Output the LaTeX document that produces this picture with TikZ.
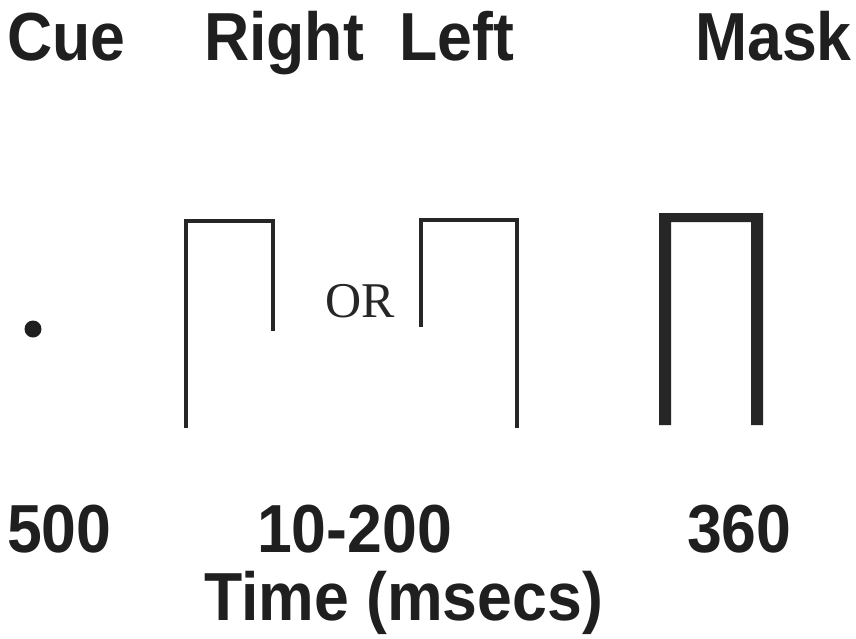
\documentclass[tikz,border=0pt]{standalone}
\usepackage{fontspec}
\setmainfont{Liberation Sans}
\newfontfamily\headface[FakeStretch=0.92]{Liberation Sans}
\newfontfamily\serifface{Liberation Serif}
\begin{document}
\begin{tikzpicture}[x=1pt,y=-1pt,
  label/.style={inner sep=0pt, anchor=base west, text=black!88,
    font=\headface\fontsize{68}{68}\selectfont\bfseries},
  thinbar/.style={draw=black!85, line width=3.3pt, line cap=butt, line join=miter},
  maskbar/.style={fill=black!85, draw=none}]
  \useasboundingbox[fill=white] (0,0) rectangle (856,638);

  % column headings
  \node[label] (cue)   at (7,60)   {Cue};
  \node[label] (right) at (204,60) {Right};
  \node[label] (left)  at (399,60) {Left};
  \node[label] (mask)  at (695,60) {Mask};

  % fixation cue
  \fill[black!88] (33,329) circle (8.5);

  % right-gap stimulus
  \draw[thinbar] (186,428) -- (186,221) -- (273,221) -- (273,331);

  \node[inner sep=0pt, anchor=base, font=\serifface\fontsize{50}{50}\selectfont,
        text=black!85] (or) at (360,317) {OR};

  % left-gap stimulus
  \draw[thinbar] (421,327) -- (421,220) -- (517,220) -- (517,428);

  % mask
  \fill[maskbar] (659,425) -- (659,213) -- (763,213) -- (763,425)
    -- (751,425) -- (751,222) -- (671,222) -- (671,425) -- cycle;

  % durations
  \node[label] (t1) at (7,552)   {500};
  \node[label] (t2) at (257,552) {10-200};
  \node[label] (t3) at (687,552) {360};
  \node[label] (axis) at (204,620) {Time (msecs)};
\end{tikzpicture}
\end{document}
